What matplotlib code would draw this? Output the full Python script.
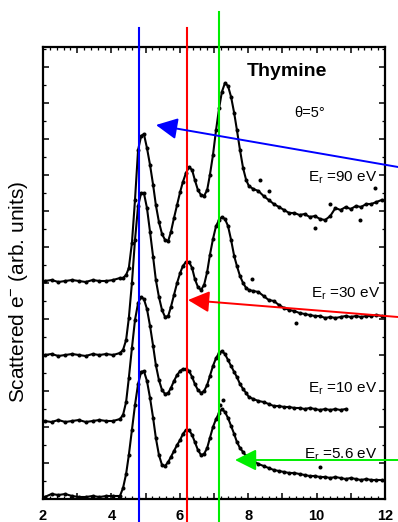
import matplotlib
matplotlib.use("Agg")
import matplotlib.pyplot as plt
from matplotlib.patches import FancyArrowPatch, ArrowStyle
from matplotlib.transforms import blended_transform_factory
from matplotlib.ticker import MultipleLocator, FuncFormatter

plt.rcParams["font.family"] = ["Liberation Sans", "DejaVu Sans"]
plt.rcParams["mathtext.fontset"] = "custom"
plt.rcParams["mathtext.rm"] = "Liberation Sans"
plt.rcParams["mathtext.it"] = "Liberation Sans:italic"

# ---- scattered-electron energy (eV) ----
energy_low = [2.05, 2.25, 2.45, 2.65, 2.85, 3.05, 3.25, 3.45, 3.65, 3.85, 4.05, 4.25]
energy_mid = [4.34, 4.43, 4.51, 4.60, 4.69, 4.78, 4.87, 4.95, 5.04, 5.13, 5.22, 5.30,
              5.39, 5.48, 5.57, 5.66, 5.74, 5.83, 5.92, 6.01, 6.09, 6.18, 6.27, 6.36,
              6.44, 6.53, 6.62, 6.71, 6.80, 6.88, 6.97, 7.06, 7.15, 7.23, 7.32, 7.41,
              7.50, 7.59, 7.67, 7.76, 7.85, 7.94, 8.02]
energy_high = [8.15, 8.30, 8.45, 8.60, 8.75, 8.90, 9.05, 9.20, 9.35, 9.50, 9.65, 9.80,
               9.95, 10.10, 10.25, 10.40, 10.55, 10.70, 10.85, 11.00, 11.15, 11.30,
               11.45, 11.60, 11.75, 11.90]

# ---- intensities (arb. units, spectra already offset vertically) ----
int_90 = ([21.8, 21.9, 21.7, 21.8, 21.9, 21.8, 21.7, 21.9, 21.8, 21.8, 21.9, 22.1] +
          [22.1, 22.4, 23.1, 25.6, 29.9, 34.9, 36.3, 36.5, 35.1, 33.4, 31.4, 29.4,
           27.7, 26.5, 25.9, 25.8, 26.7, 28.1, 29.4, 30.7, 31.7, 32.6, 33.2, 32.9,
           31.9, 30.9, 30.4, 30.3, 30.9, 32.4, 34.4, 36.9, 39.1, 40.7, 41.6, 41.3,
           40.2, 38.6, 36.9, 34.9, 33.1, 31.9, 31.3] +
          [31.0, 30.8, 30.3, 29.9, 29.5, 29.2, 28.9, 28.6, 28.6, 28.4, 28.5, 28.2,
           28.3, 28.0, 27.9, 28.3, 29.1, 28.9, 29.2, 29.0, 29.3, 29.2, 29.5, 29.5,
           29.7, 29.9])
int_30 = ([14.4, 14.5, 14.3, 14.4, 14.5, 14.4, 14.3, 14.5, 14.4, 14.5, 14.4, 14.6] +
          [14.9, 15.9, 18.1, 21.6, 25.9, 29.3, 30.6, 30.6, 29.1, 26.7, 24.2, 21.9,
           20.2, 18.9, 18.2, 18.3, 19.2, 20.4, 21.6, 22.6, 23.3, 23.7, 23.7, 23.1,
           22.0, 21.2, 20.9, 21.4, 22.7, 24.4, 26.0, 27.3, 27.9, 28.2, 28.0, 27.3,
           25.9, 24.3, 23.3, 22.3, 21.6, 21.1, 20.9] +
          [20.8, 20.7, 20.3, 19.9, 19.8, 19.4, 19.1, 18.9, 18.8, 18.6, 18.5, 18.4,
           18.3, 18.3, 18.1, 18.2, 18.1, 18.2, 18.3, 18.2, 18.3, 18.2, 18.3, 18.3,
           18.4, 18.3])
int_10 = ([7.8, 7.7, 7.9, 7.7, 7.8, 7.9, 7.7, 7.8, 7.9, 7.8, 7.8, 8.0] +
          [8.4, 9.7, 12.1, 15.1, 17.9, 19.6, 20.2, 20.0, 19.0, 17.3, 15.3, 13.4,
           11.9, 10.9, 10.5, 10.6, 11.1, 11.8, 12.4, 12.8, 13.0, 13.0, 12.8, 12.2,
           11.5, 10.9, 10.6, 10.8, 11.4, 12.3, 13.3, 14.1, 14.6, 14.8, 14.5, 13.9,
           13.3, 12.7, 12.2, 11.5, 11.0, 10.6, 10.2] +
          [10.0, 9.8, 9.7, 9.5, 9.3, 9.3, 9.2, 9.2, 9.1, 9.1, 9.0, 9.1, 9.0, 8.9,
           9.0, 8.9, 9.0, 8.9, 9.0])
int_5p6 = ([0.2, 0.5, 0.4, 0.5, 0.3, 0.2, 0.2, 0.3, 0.2, 0.3, 0.3, 0.3] +
           [1.1, 2.5, 4.4, 6.9, 9.4, 11.5, 12.7, 12.8, 11.8, 10.1, 8.1, 6.1,
            4.4, 3.4, 3.3, 3.7, 4.2, 4.8, 5.4, 5.9, 6.5, 6.9, 6.9, 6.4,
            5.7, 4.9, 4.4, 4.5, 5.1, 6.1, 7.2, 8.0, 8.6, 9.0, 8.7, 8.1,
            7.3, 6.5, 5.7, 5.1, 4.7, 4.3, 4.0] +
           [3.8, 3.5, 3.3, 3.1, 2.9, 2.8, 2.7, 2.6, 2.6, 2.5, 2.4, 2.3, 2.3, 2.2,
            2.2, 2.1, 2.2, 2.1, 2.0, 2.1, 2.0, 1.9, 2.0, 1.9, 1.9, 1.9])

# isolated points that scatter off the smooth trace
stray_energy = [8.35, 8.60, 9.95, 10.40, 11.27, 11.71, 8.10, 9.40, 7.18, 7.26, 10.10]
stray_int = [31.9, 30.8, 27.1, 29.5, 27.9, 31.1, 22.0, 17.6, 9.4, 9.9, 3.2]

spectra = [("90", int_90), ("30", int_30), ("10", int_10), ("5.6", int_5p6)]
energy_all = energy_low + energy_mid + energy_high

# resonance positions (eV) and spectrum labels
resonance_energy = [4.81, 6.21, 7.15]
resonance_color = ["#0000ff", "#ff0000", "#00ee00"]
resonance_top = [0.946, 0.946, 0.977]
label_text = [r"E$_{\mathrm{r}}$ =90 eV", r"E$_{\mathrm{r}}$ =30 eV",
              r"E$_{\mathrm{r}}$ =10 eV", r"E$_{\mathrm{r}}$ =5.6 eV"]
label_x = [11.77, 11.85, 11.77, 11.77]
label_y = [31.7, 20.1, 10.6, 4.0]

W, H = 398, 522
fig = plt.figure(figsize=(W / 100, H / 100), dpi=100)
ax = fig.add_axes([43 / W, 1 - 499 / H, (385 - 43) / W, (499 - 47) / H])

for name, inten in spectra:
    e = energy_all[:len(inten)]
    ax.plot(e, inten, color="black", lw=1.5, marker="o", ms=2.9, mew=0, zorder=3)
ax.plot(stray_energy, stray_int, ls="none", marker="o", ms=2.9, mew=0,
        color="black", zorder=3)

ax.set_xlim(2, 12)
ax.set_ylim(0, 45.2)

ax.xaxis.set_major_locator(MultipleLocator(1))
ax.xaxis.set_minor_locator(MultipleLocator(0.2))
ax.xaxis.set_major_formatter(
    FuncFormatter(lambda v, p: f"{int(round(v))}" if int(round(v)) % 2 == 0 else ""))
ax.yaxis.set_major_locator(MultipleLocator(3.6))
ax.yaxis.set_minor_locator(MultipleLocator(1.8))
ax.tick_params(which="both", direction="in", top=True, right=True, labelleft=False)
ax.tick_params(which="major", length=4, width=1.1)
ax.tick_params(which="minor", length=2.3, width=0.9)
ax.tick_params(axis="x", labelsize=10.5, pad=7)
for lbl in ax.get_xticklabels():
    lbl.set_fontweight("bold")
for sp in ax.spines.values():
    sp.set_linewidth(1.6)

# annotations
ax.text(9.13, 42.8, "Thymine", fontsize=14, fontweight="bold",
        ha="center", va="center")
ax.text(9.81, 38.6, "θ=5°", fontsize=10.5, ha="center", va="center")
for t, x, y in zip(label_text, label_x, label_y):
    ax.text(x, y, t, fontsize=11, ha="right", va="baseline", zorder=2)

fig.text(18.5 / W, 1 - 291.5 / H, "Scattered e$^{-}$ (arb. units)", rotation=90,
         fontsize=15, ha="center", va="center")

# vertical resonance markers, running past the frame
trans = blended_transform_factory(ax.transData, fig.transFigure)
for x, c, top in zip(resonance_energy, resonance_color, resonance_top):
    ax.plot([x, x], [0, top], color=c, lw=1.5, transform=trans,
            clip_on=False, zorder=5)

# arrows pointing at the resonances
arrows = [((398, 167), (156, 125), "#0000ff"),
          ((398, 317), (188, 300), "#ff0000"),
          ((398, 460), (235, 460), "#00ee00")]
for (x0, y0), (x1, y1), c in arrows:
    arr = FancyArrowPatch((x0 / W, 1 - y0 / H), (x1 / W, 1 - y1 / H),
                          transform=fig.transFigure,
                          arrowstyle=ArrowStyle("-|>", head_length=13, head_width=6.5),
                          mutation_scale=1, color=c, lw=1.4,
                          shrinkA=0, shrinkB=0, zorder=6)
    fig.add_artist(arr)

fig.savefig("out.png", dpi=100)
